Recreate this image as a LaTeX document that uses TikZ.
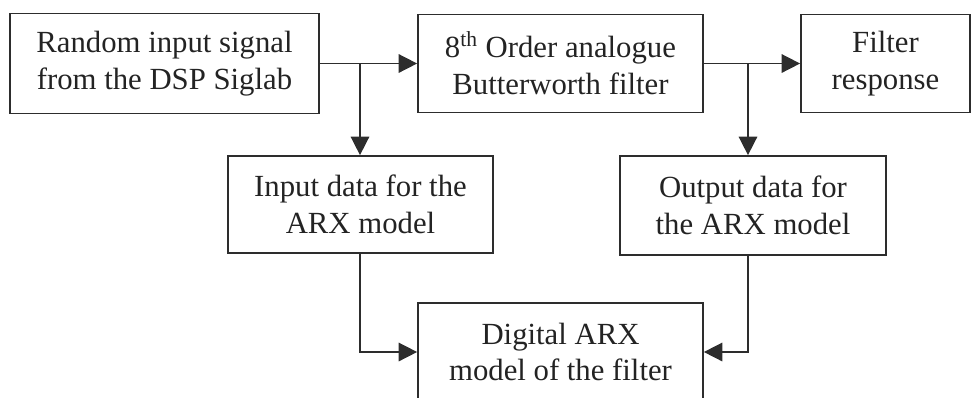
\documentclass[tikz,border=0pt]{standalone}
\usepackage{fontspec}
\setmainfont{Liberation Serif}
\usetikzlibrary{arrows.meta}
\definecolor{lineA}{RGB}{45, 45, 45}
\definecolor{textA}{RGB}{35, 35, 35}

\tikzset{
  block/.style={draw=lineA, line width=1pt, text=textA, align=center, inner sep=0pt,
    font=\fontsize{17.5pt}{21pt}\selectfont},
  flow/.style={draw=lineA, line width=0.9pt, -{Triangle[length=10.5pt, width=10.5pt]}}
}

\begin{document}
\begin{tikzpicture}[x=0.02cm, y=-0.02cm]
  \useasboundingbox (0,0) rectangle (971,397);

  \coordinate (S) at (164.5, 63.5);
  \coordinate (F) at (560.5, 63.5);
  \coordinate (R) at (885.5, 63.5);
  \coordinate (I) at (360.5, 204.5);
  \coordinate (O) at (753,   205.5);
  \coordinate (M) at (560.5, 352);

  \node[block, minimum width=6.18cm, minimum height=2.0cm]  (source) at (S)
    {Random input signal\\from the DSP Siglab};
  \node[block, minimum width=5.70cm, minimum height=1.96cm] (filter) at (F)
    {8\textsuperscript{th} Order analogue\\Butterworth filter};
  \node[block, minimum width=3.38cm, minimum height=1.96cm] (response) at (R)
    {Filter\\response};
  \node[block, minimum width=5.30cm, minimum height=1.94cm] (indata) at (I)
    {Input data for the\\ARX model};
  \node[block, minimum width=5.32cm, minimum height=1.98cm] (outdata) at (O)
    {Output data for\\the ARX model};
  \node[block, minimum width=5.70cm, minimum height=1.96cm] (arx) at (M)
    {Digital ARX\\model of the filter};

  \coordinate (tapA) at (360, 63.5);
  \coordinate (tapB) at (748, 63.5);

  \draw[flow] (source.east) -- (filter.west);
  \draw[flow] (filter.east) -- (response.west);
  \draw[flow] (tapA) -- (tapA |- indata.north);
  \draw[flow] (tapB) -- (tapB |- outdata.north);
  \draw[flow] (indata.south -| tapA) |- (arx.west);
  \draw[flow] (outdata.south -| tapB) |- (arx.east);
\end{tikzpicture}
\end{document}
